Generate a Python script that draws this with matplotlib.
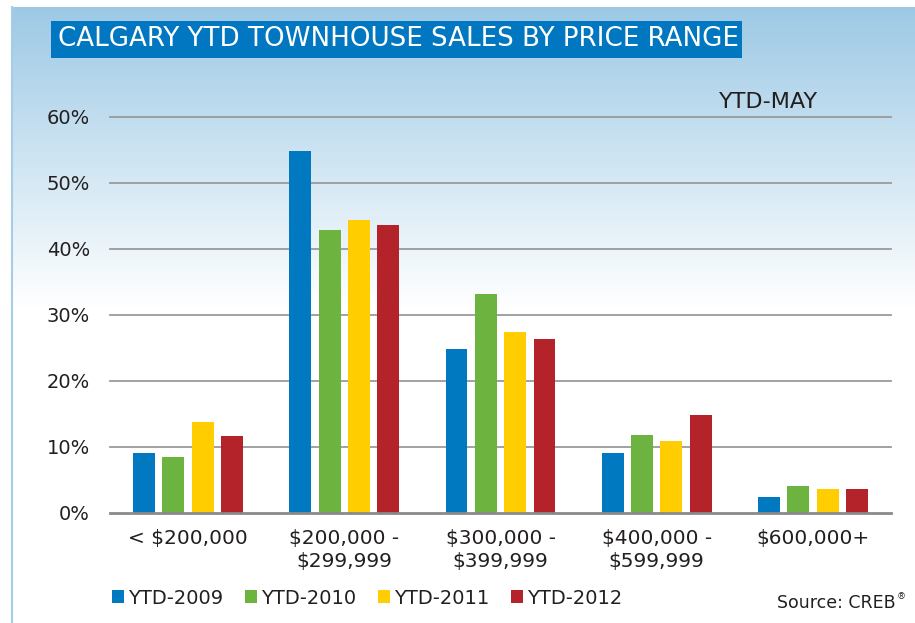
import numpy as np
import matplotlib
matplotlib.use("Agg")
import matplotlib.pyplot as plt
from matplotlib.patches import Rectangle
from matplotlib.lines import Line2D

# ---- data ----
categories = ["< $200,000", "$200,000 -\n$299,999", "$300,000 -\n$399,999",
              "$400,000 -\n$599,999", "$600,000+"]
series_names = ["YTD-2009", "YTD-2010", "YTD-2011", "YTD-2012"]
ytd_2009 = [9.1, 54.8, 24.8, 9.1, 2.3]
ytd_2010 = [8.4, 42.8, 33.1, 11.8, 4.1]
ytd_2011 = [13.8, 44.3, 27.3, 10.8, 3.6]
ytd_2012 = [11.6, 43.6, 26.3, 14.8, 3.6]
y_ticks = [0, 10, 20, 30, 40, 50, 60]
y_tick_labels = ["0%", "10%", "20%", "30%", "40%", "50%", "60%"]
title = "CALGARY YTD TOWNHOUSE SALES BY PRICE RANGE"
period_label = "YTD-MAY"
source_label = "Source: CREB"

colors = ["#0079C1", "#6DB33F", "#FFCD00", "#B5232A"]
text_color = "#231F20"

W, H = 915, 623
plt.rcParams['font.family'] = ['DejaVu Sans']
fig = plt.figure(figsize=(W / 100, H / 100), dpi=100)
fig.patch.set_facecolor("white")

def fx(px):
    return px / W

def fy(py):
    return 1 - py / H

# ---- background panel with gradient ----
bg = fig.add_axes([fx(11), 0, 1 - fx(11), fy(7)], zorder=-10)
bg.set_axis_off()
n = 616
grad = np.ones((n, 1, 3))
top = np.array([157, 201, 229]) / 255.0
for i in range(n):
    t = min(i / 300.0, 1.0)
    grad[i, 0, :] = top * (1 - t) + np.array([1, 1, 1]) * t
bg.imshow(grad, aspect="auto", extent=[0, 1, 0, 1], origin="upper")
bg.set_xlim(0, 1)
bg.set_ylim(0, 1)
fig.add_artist(Line2D([fx(11.5), fx(11.5)], [0, fy(7)], color="#A5CDE8", lw=1.5,
                      transform=fig.transFigure, zorder=-5))

# ---- title box ----
fig.add_artist(Rectangle((fx(51), fy(57.7)), fx(742) - fx(51), fy(21) - fy(57.7),
                         transform=fig.transFigure, facecolor="#0077C0",
                         edgecolor="none", zorder=1))
fig.text(fx(58), fy(39.5), title, color="white", fontsize=18.8,
         ha="left", va="center", zorder=2)

# ---- main axes ----
ax = fig.add_axes([fx(110), fy(512.6), fx(891) - fx(110), fy(116.6) - fy(512.6)])
ax.set_facecolor("none")
x = np.arange(len(categories))
width = 0.14
step = 0.188
all_series = [ytd_2009, ytd_2010, ytd_2011, ytd_2012]
handles = []
for i, (vals, c, name) in enumerate(zip(all_series, colors, series_names)):
    b = ax.bar(x + (i - 1.5) * step, vals, width=width, color=c, label=name,
               zorder=3, edgecolor="none")
    handles.append(b)

ax.set_xlim(-0.5, len(categories) - 0.5)
ax.set_ylim(0, 60)
ax.set_yticks(y_ticks)
ax.set_yticklabels(y_tick_labels)
ax.set_xticks(x)
ax.set_xticklabels(categories, linespacing=1.25)
for yv in y_ticks[1:]:
    ax.axhline(yv, color="#9A9A9A", lw=1.3, zorder=1, clip_on=False)
ax.axhline(0, color="#8A8A8A", lw=2.0, zorder=4, clip_on=False)
for s in ax.spines.values():
    s.set_visible(False)
ax.tick_params(axis="y", length=0, pad=14.5, labelsize=14, labelcolor=text_color)
ax.tick_params(axis="x", length=0, pad=12, labelsize=14.5, labelcolor=text_color)

# ---- period label ----
fig.text(fx(818), fy(102), period_label, fontsize=16, color=text_color,
         ha="right", va="center")

# ---- legend ----
leg = fig.legend(handles=handles, labels=series_names, ncol=4, loc="center left",
                 bbox_to_anchor=(fx(112), fy(598)), frameon=False, fontsize=14,
                 handlelength=0.62, handleheight=0.62, handletextpad=0.2,
                 columnspacing=1.12, borderpad=0, borderaxespad=0)
for t in leg.get_texts():
    t.set_color(text_color)

# ---- source ----
fig.text(fx(896), fy(603), source_label, fontsize=12.5, color=text_color,
         ha="right", va="center")
fig.text(fx(897), fy(597), "®", fontsize=6.5, color=text_color,
         ha="left", va="center")

fig.savefig("out.png", dpi=100)
